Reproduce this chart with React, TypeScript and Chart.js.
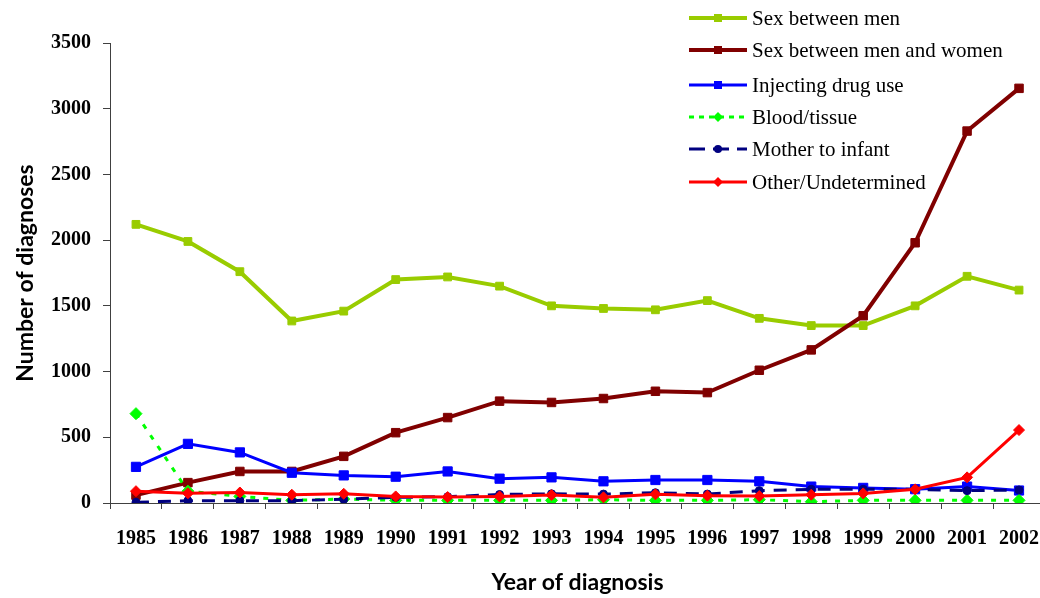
import React, { useEffect, useRef } from "react";
import { Chart, registerables } from "chart.js";

Chart.register(...registerables);

const years = ["1985","1986","1987","1988","1989","1990","1991","1992","1993","1994","1995","1996","1997","1998","1999","2000","2001","2002"];

const sexBetweenMen = [2120, 1990, 1760, 1385, 1460, 1700, 1720, 1650, 1500, 1480, 1470, 1540, 1405, 1350, 1350, 1500, 1725, 1620];
const sexMenWomen = [60, 155, 240, 240, 355, 535, 650, 775, 765, 795, 850, 840, 1010, 1165, 1425, 1980, 2830, 3155];
const injectingDrugUse = [275, 450, 385, 230, 210, 200, 240, 185, 195, 165, 175, 175, 165, 125, 115, 105, 125, 95];
const bloodTissue = [680, 90, 50, 20, 30, 20, 20, 20, 20, 25, 20, 20, 25, 10, 20, 20, 20, 20];
const motherToInfant = [5, 18, 18, 18, 28, 43, 48, 65, 70, 68, 78, 68, 94, 104, 104, 104, 94, 99];
const otherUndetermined = [90, 74, 80, 63, 70, 50, 45, 50, 60, 43, 66, 56, 53, 63, 73, 104, 195, 555];

const seriesNames = [
  "Sex between men",
  "Sex between men and women",
  "Injecting drug use",
  "Blood/tissue",
  "Mother to infant",
  "Other/Undetermined",
];

const yTicks = [0, 500, 1000, 1500, 2000, 2500, 3000, 3500];

const legendRows = [18, 50, 85, 117, 149, 182];

const legendPlugin = {
  id: "customLegend",
  afterDraw(chart: any) {
    const ctx = chart.ctx as CanvasRenderingContext2D;
    ctx.save();
    chart.data.datasets.forEach((ds: any, i: number) => {
      const y = legendRows[i];
      const x0 = 689, x1 = 747, xm = 718;
      ctx.strokeStyle = ds.borderColor;
      ctx.lineWidth = ds.borderWidth;
      ctx.setLineDash(ds.legendDash || []);
      ctx.beginPath();
      ctx.moveTo(x0, y);
      ctx.lineTo(x1, y);
      ctx.stroke();
      ctx.setLineDash([]);
      ctx.fillStyle = ds.borderColor;
      const s = 4;
      ctx.beginPath();
      if (ds.pointStyle === "rect") {
        ctx.rect(xm - s, y - s, 2 * s, 2 * s);
      } else if (ds.pointStyle === "rectRot") {
        ctx.moveTo(xm, y - s - 1);
        ctx.lineTo(xm + s + 1, y);
        ctx.lineTo(xm, y + s + 1);
        ctx.lineTo(xm - s - 1, y);
        ctx.closePath();
      } else {
        ctx.arc(xm, y, s, 0, Math.PI * 2);
      }
      ctx.fill();
      ctx.fillStyle = "#000";
      ctx.font = '21px "Liberation Serif", "Times New Roman", serif';
      ctx.textBaseline = "middle";
      ctx.textAlign = "left";
      ctx.fillText(seriesNames[i], 752, y + 1);
    });
    ctx.restore();
  },
};

export default function App() {
  const ref = useRef<HTMLCanvasElement>(null);

  useEffect(() => {
    document.body.style.margin = "0";
    const canvas = ref.current;
    if (!canvas) return;
    const tickFont = { family: '"Liberation Serif", "Times New Roman", serif', size: 20, weight: "bold" as const };
    const titleFont = { family: "Lato, 'Open Sans', sans-serif", size: 23, weight: "bold" as const };
    const axisColor = "#404040";
    const chart = new Chart(canvas, {
      type: "line",
      data: {
        labels: years,
        datasets: [
          {
            label: seriesNames[0], data: sexBetweenMen, borderColor: "#99CC00", backgroundColor: "#99CC00",
            borderWidth: 4, pointStyle: "rect", pointRadius: 5.5, pointBorderWidth: 1, order: 5,
          } as any,
          {
            label: seriesNames[1], data: sexMenWomen, borderColor: "#800000", backgroundColor: "#800000",
            borderWidth: 4, pointStyle: "rect", pointRadius: 6, pointBorderWidth: 1, order: 4,
          },
          {
            label: seriesNames[2], data: injectingDrugUse, borderColor: "#0000FF", backgroundColor: "#0000FF",
            borderWidth: 3, pointStyle: "rect", pointRadius: 6.5, pointBorderWidth: 1, order: 3,
          },
          {
            label: seriesNames[3], data: bloodTissue, borderColor: "#00FF00", backgroundColor: "#00FF00",
            borderWidth: 3, borderDash: [5, 8], legendDash: [5, 5], pointStyle: "rectRot", pointRadius: 6, pointBorderWidth: 1, order: 2,
          },
          {
            label: seriesNames[4], data: motherToInfant, borderColor: "#000080", backgroundColor: "#000080",
            borderWidth: 3, borderDash: [13, 9], legendDash: [16, 8], pointStyle: "circle", pointRadius: 4, pointBorderWidth: 1, order: 1,
          },
          {
            label: seriesNames[5], data: otherUndetermined, borderColor: "#FF0000", backgroundColor: "#FF0000",
            borderWidth: 3, pointStyle: "rectRot", pointRadius: 5.5, pointBorderWidth: 1, order: 0,
          },
        ] as any,
      },
      options: {
        responsive: false,
        animation: false,
        layout: { autoPadding: false, padding: { left: 0, top: 43, right: 1, bottom: 0 } },
        plugins: {
          legend: { display: false },
          tooltip: { enabled: false },
        },
        elements: { line: { tension: 0 } },
        scales: {
          x: {
            type: "category",
            offset: true,
            grid: { display: true, offset: true, drawOnChartArea: false, drawTicks: true, tickLength: 6, color: axisColor },
            border: { display: true, color: axisColor, width: 1 },
            ticks: { color: "#000", font: tickFont, padding: 18, maxRotation: 0, autoSkip: false },
            title: { display: true, text: "Year of diagnosis", color: "#000", font: titleFont, padding: { top: 0, bottom: 2 } },
            afterFit: (s: any) => { s.height = 95; s.paddingLeft = 0; s.paddingRight = 0; },
          },
          y: {
            min: 0,
            max: 3500,
            afterBuildTicks: (s: any) => { s.ticks = yTicks.map((v) => ({ value: v })); },
            grid: { display: true, drawOnChartArea: false, drawTicks: true, tickLength: 7, color: axisColor },
            border: { display: true, color: axisColor, width: 1 },
            ticks: { color: "#000", font: tickFont, padding: 12, callback: (v: any) => String(v) },
            title: { display: true, text: "Number of diagnoses", color: "#000", font: titleFont, padding: { top: 12, bottom: 0 } },
            afterFit: (s: any) => { s.width = 110; s.paddingTop = 0; s.paddingBottom = 0; },
          },
        },
      },
      plugins: [legendPlugin],
    });
    return () => chart.destroy();
  }, []);

  return (
    <div style={{ width: 1040, height: 598, overflow: "hidden", position: "relative" }}>
      <canvas ref={ref} width={1046} height={598} style={{ display: "block" }} />
    </div>
  );
}
